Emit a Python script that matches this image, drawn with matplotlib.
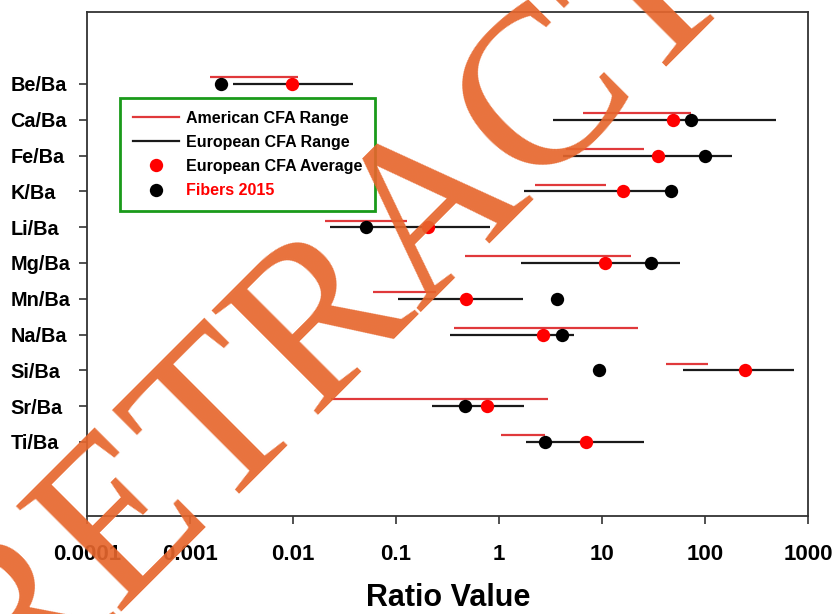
import matplotlib
matplotlib.use("Agg")
import matplotlib.pyplot as plt
from matplotlib.lines import Line2D
import numpy as np

categories = ['Be/Ba', 'Ca/Ba', 'Fe/Ba', 'K/Ba', 'Li/Ba', 'Mg/Ba',
              'Mn/Ba', 'Na/Ba', 'Si/Ba', 'Sr/Ba', 'Ti/Ba']
american_low = [0.00156, 6.55, 4.47, 2.24, 0.0205, 0.468, 0.0598, 0.366, 41.8, 0.0234, 1.045]
american_high = [0.0112, 73, 25.6, 10.9, 0.128, 19.1, 0.244, 22.4, 107, 2.99, 2.80]
european_low = [0.00261, 3.34, 4.18, 1.75, 0.0229, 1.64, 0.1045, 0.334, 61, 0.224, 1.83]
european_high = [0.0383, 489, 183, 47, 0.818, 57, 1.71, 5.35, 731, 1.75, 25.6]
european_avg = [0.0098, 48.9, 35, 16, 0.205, 10.7, 0.479, 2.67, 244, 0.764, 7.0]
fibers_2015 = [0.0020, 73, 100, 46.8, 0.0512, 29.9, 3.66, 4.09, 9.36, 0.468, 2.80]
x_ticks = [0.0001, 0.001, 0.01, 0.1, 1, 10, 100, 1000]
x_tick_labels = ['0.0001', '0.001', '0.01', '0.1', '1', '10', '100', '1000']

plt.rcParams['font.family'] = ['Liberation Sans', 'DejaVu Sans']
plt.rcParams['font.weight'] = 'bold'

W, H = 835, 614
fig = plt.figure(figsize=(W / 100, H / 100), dpi=100)
ax = fig.add_axes([87 / W, 1 - 516 / H, (808 - 87) / W, (516 - 12) / H])

pos = np.arange(1, len(categories) + 1)
red_line = '#e0393b'
ax.hlines(pos - 0.185, american_low, american_high, color=red_line, lw=1.6, zorder=2)
ax.hlines(pos, european_low, european_high, color='#1a1a1a', lw=1.6, zorder=2)
ax.plot(european_avg, pos, 'o', color='#ff0000', ms=9.6, mec='none', zorder=3)
ax.plot(fibers_2015, pos, 'o', color='black', ms=9.6, mec='none', zorder=4)

ax.set_xscale('log')
ax.set_xlim(1e-4, 1e3)
ax.set_ylim(13.07, -1.01)
ax.set_xticks(x_ticks)
ax.set_xticklabels(x_tick_labels)
ax.xaxis.set_minor_locator(matplotlib.ticker.NullLocator())
ax.set_yticks(pos)
ax.set_yticklabels(categories)
ax.tick_params(axis='x', direction='out', length=6, width=1.2, pad=14, labelsize=16, color='#333333')
ax.tick_params(axis='y', direction='out', length=6, width=1.2, pad=49, labelsize=14.3, color='#333333')
for lbl in ax.get_yticklabels():
    lbl.set_horizontalalignment('left')
for s in ax.spines.values():
    s.set_linewidth(1.3)
    s.set_color('#333333')

handles = [
    Line2D([], [], color=red_line, lw=1.6),
    Line2D([], [], color='#1a1a1a', lw=1.6),
    Line2D([], [], ls='none', marker='o', color='#ff0000', ms=9.6, mec='none'),
    Line2D([], [], ls='none', marker='o', color='black', ms=9.6, mec='none'),
]
labels = ['American CFA Range', 'European CFA Range', 'European CFA Average', 'Fibers 2015']
leg = ax.legend(handles, labels, loc='upper left', bbox_to_anchor=(33 / 721, 1 - 86 / 504),
                borderaxespad=0, fancybox=False, edgecolor='#1a9a1a', framealpha=1,
                prop={'size': 11.5, 'weight': 'bold'}, handlelength=2.9, handletextpad=0.45,
                labelspacing=0.57, borderpad=0.8)
leg.get_frame().set_linewidth(2)
leg.get_texts()[3].set_color('#ff0000')

fig.text(448 / W, 1 - 598 / H, 'Ratio Value', ha='center', va='center', fontsize=22, fontweight='bold')

fig.text(480 / W, 1 - 246 / H, 'RETRACTED', ha='center', va='baseline', rotation=45,
         rotation_mode='anchor', fontsize=163, family='Liberation Serif', fontweight='normal',
         color=(230 / 255, 102 / 255, 45 / 255), alpha=0.92, zorder=10)

fig.savefig('out.png', dpi=100)
